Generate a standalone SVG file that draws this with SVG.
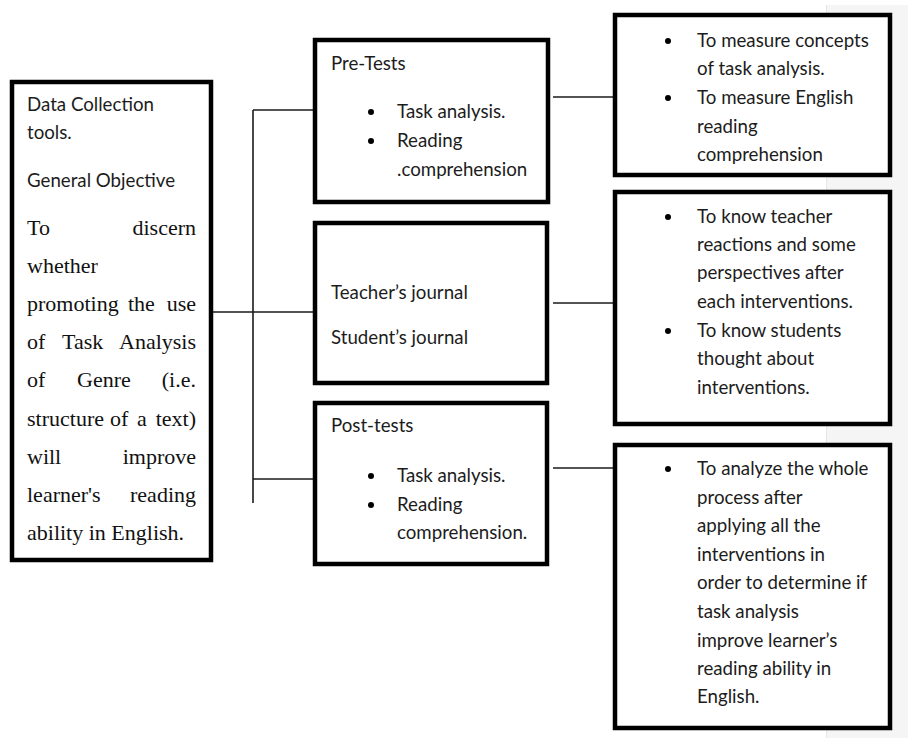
<svg xmlns="http://www.w3.org/2000/svg" width="908" height="738" viewBox="0 0 908 738">
<style>
.box{fill:#fff;stroke:#000;stroke-width:4.5}
.conn{stroke:#1a1a1a;stroke-width:1.6;fill:none}
.t{font-family:Lato,"Open Sans","Liberation Sans",sans-serif;font-size:18.7px;fill:#1c1c1c}
.s{font-family:"Liberation Serif","Times New Roman",serif;font-size:22px;fill:#111}
.e{text-anchor:end}
.b{fill:#000}
</style>
<rect x="0" y="0" width="908" height="738" fill="#fff"/>
<rect x="826" y="5" width="82" height="733" fill="#f5f5f5"/>
<line x1="826.5" y1="5" x2="826.5" y2="738" stroke="#e6e6e6" stroke-width="1"/>

<g id="connectors">
<line class="conn" x1="253" y1="110" x2="253" y2="503"/>
<line class="conn" x1="253" y1="110" x2="315" y2="110"/>
<line class="conn" x1="212" y1="312" x2="315" y2="312"/>
<line class="conn" x1="253" y1="479" x2="315" y2="479"/>
<line class="conn" x1="553" y1="97" x2="615" y2="97"/>
<line class="conn" x1="553" y1="303" x2="615" y2="303"/>
<line class="conn" x1="553" y1="468" x2="615" y2="468"/>
</g>

<g id="data-collection">
<rect class="box" x="12" y="82" width="199" height="478"/>
<text class="t" x="27" y="111">Data Collection</text>
<text class="t" x="27" y="139">tools.</text>
<text class="t" x="27" y="187">General Objective</text>
<text class="s" x="27" y="235">To</text><text class="s e" x="196" y="235">discern</text>
<text class="s" x="27" y="273">whether</text>
<text class="s" x="27" y="311">promoting</text><text class="s" x="128" y="311">the</text><text class="s e" x="196" y="311">use</text>
<text class="s" x="27" y="349">of</text><text class="s" x="62" y="349">Task</text><text class="s e" x="196" y="349">Analysis</text>
<text class="s" x="27" y="387">of</text><text class="s" x="77" y="387">Genre</text><text class="s e" x="196" y="387">(i.e.</text>
<text class="s" x="27" y="426">structure</text><text class="s" x="110" y="426">of</text><text class="s" x="137" y="426">a</text><text class="s e" x="196" y="426">text)</text>
<text class="s" x="27" y="464">will</text><text class="s e" x="196" y="464">improve</text>
<text class="s" x="27" y="502">learner's</text><text class="s e" x="196" y="502">reading</text>
<text class="s" x="27" y="540">ability in English.</text>
</g>

<g id="pre-tests">
<rect class="box" x="315" y="40" width="233" height="162"/>
<text class="t" x="331" y="70">Pre-Tests</text>
<circle class="b" cx="371" cy="112" r="3"/>
<text class="t" x="397" y="118">Task analysis.</text>
<circle class="b" cx="371" cy="141" r="3"/>
<text class="t" x="397" y="147">Reading</text>
<text class="t" x="397" y="176">.comprehension</text>
</g>

<g id="journals">
<rect class="box" x="315" y="223" width="232" height="160"/>
<text class="t" x="331" y="299">Teacher’s journal</text>
<text class="t" x="331" y="344">Student’s journal</text>
</g>

<g id="post-tests">
<rect class="box" x="315" y="403" width="232" height="161"/>
<text class="t" x="331" y="432">Post-tests</text>
<circle class="b" cx="371" cy="476" r="3"/>
<text class="t" x="397" y="482">Task analysis.</text>
<circle class="b" cx="371" cy="505" r="3"/>
<text class="t" x="397" y="511">Reading</text>
<text class="t" x="397" y="539">comprehension.</text>
</g>

<g id="pre-objectives">
<rect class="box" x="615" y="15" width="275" height="160"/>
<circle class="b" cx="668" cy="41" r="3"/>
<text class="t" x="697" y="47">To measure concepts</text>
<text class="t" x="697" y="75">of task analysis.</text>
<circle class="b" cx="668" cy="98" r="3"/>
<text class="t" x="697" y="104">To measure English</text>
<text class="t" x="697" y="133">reading</text>
<text class="t" x="697" y="161">comprehension</text>
</g>

<g id="journal-objectives">
<rect class="box" x="615" y="192" width="275" height="232"/>
<circle class="b" cx="668" cy="217" r="3"/>
<text class="t" x="697" y="223">To know teacher</text>
<text class="t" x="697" y="251">reactions and some</text>
<text class="t" x="697" y="279">perspectives after</text>
<text class="t" x="697" y="308">each interventions.</text>
<circle class="b" cx="668" cy="331" r="3"/>
<text class="t" x="697" y="337">To know students</text>
<text class="t" x="697" y="365">thought about</text>
<text class="t" x="697" y="394">interventions.</text>
</g>

<g id="post-objectives">
<rect class="box" x="615" y="445" width="275" height="283"/>
<circle class="b" cx="668" cy="469" r="3"/>
<text class="t" x="697" y="475">To analyze the whole</text>
<text class="t" x="697" y="504">process after</text>
<text class="t" x="697" y="532">applying all the</text>
<text class="t" x="697" y="561">interventions in</text>
<text class="t" x="697" y="589">order to determine if</text>
<text class="t" x="697" y="618">task analysis</text>
<text class="t" x="697" y="647">improve learner’s</text>
<text class="t" x="697" y="675">reading ability in</text>
<text class="t" x="697" y="703">English.</text>
</g>
</svg>
